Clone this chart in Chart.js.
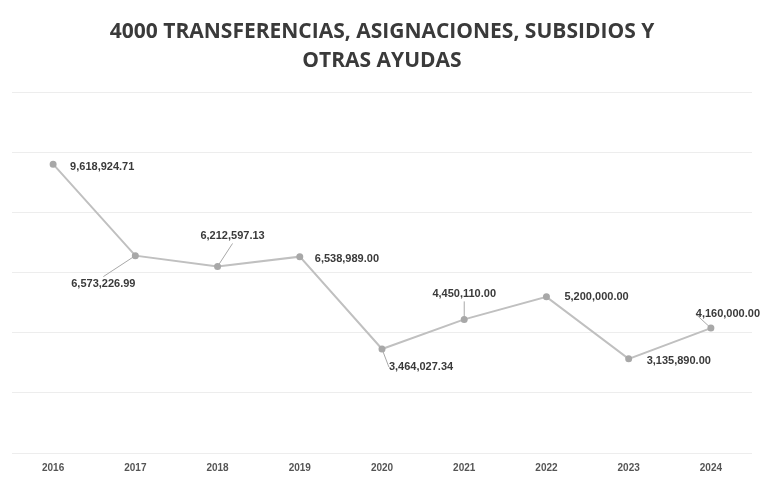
<!DOCTYPE html>
<html>
<head>
<meta charset="utf-8">
<script src="https://cdn.jsdelivr.net/npm/chart.js@4/dist/chart.umd.min.js"></script>
<style>
html,body{margin:0;padding:0;background:#fff;}
#wrap{width:764px;height:478px;}
</style>
</head>
<body>
<div id="wrap"><canvas id="c" width="764" height="478"></canvas></div>
<script>
const years = ['2016','2017','2018','2019','2020','2021','2022','2023','2024'];
const amounts = [9618924.71, 6573226.99, 6212597.13, 6538989.00, 3464027.34, 4450110.00, 5200000.00, 3135890.00, 4160000.00];
const amountLabels = ['9,618,924.71','6,573,226.99','6,212,597.13','6,538,989.00','3,464,027.34','4,450,110.00','5,200,000.00','3,135,890.00','4,160,000.00'];
const titleLines = ['4000 TRANSFERENCIAS, ASIGNACIONES, SUBSIDIOS Y', 'OTRAS AYUDAS'];

// label placement relative to each point: [dx, dy, align, leader]
const labelPlacement = [
  [17, 3, 'left', false],
  [-32, 28, 'center', true],
  [15, -30, 'center', true],
  [15, 2, 'left', false],
  [39, 18, 'center', true],
  [0, -25, 'center', true],
  [18, 0, 'left', false],
  [18, 2, 'left', false],
  [17, -14, 'center', true]
];

const labelPlugin = {
  id: 'pointLabels',
  afterDatasetsDraw(chart) {
    const ctx = chart.ctx;
    const meta = chart.getDatasetMeta(0);
    ctx.save();
    ctx.font = 'bold 11px "Liberation Sans", Arial, sans-serif';
    ctx.textBaseline = 'middle';
    meta.data.forEach((pt, i) => {
      const [dx, dy, align, leader] = labelPlacement[i];
      const tx = pt.x + dx, ty = pt.y + dy;
      const txt = amountLabels[i];
      const w = ctx.measureText(txt).width;
      if (leader) {
        const cx = align === 'left' ? tx + w / 2 : tx;
        let ex = cx, ey = ty + (dy > 0 ? -7 : 7);
        if (Math.abs(dx) > Math.abs(dy) * 1.2) { ex = cx - Math.sign(dx) * w / 2; ey = ty; }
        ctx.strokeStyle = '#a8a8a8';
        ctx.lineWidth = 1;
        ctx.beginPath();
        ctx.moveTo(pt.x, pt.y);
        ctx.lineTo(ex, ey);
        ctx.stroke();
      }
      ctx.fillStyle = '#3a3a3a';
      ctx.textAlign = align;
      ctx.fillText(txt, tx, ty);
    });
    ctx.restore();
  }
};

new Chart(document.getElementById('c'), {
  type: 'line',
  data: {
    labels: years,
    datasets: [{
      data: amounts,
      borderColor: '#c0c0c0',
      borderWidth: 2,
      pointRadius: 2.5,
      pointBackgroundColor: '#a8a8a8',
      pointBorderColor: '#a8a8a8',
      tension: 0
    }]
  },
  options: {
    responsive: false,
    animation: false,
    layout: { padding: { left: 12, right: 12, top: 0, bottom: 3 } },
    plugins: {
      legend: { display: false },
      tooltip: { enabled: false },
      title: {
        display: true,
        text: titleLines,
        color: '#3a3a3a',
        font: { family: '"Open Sans", sans-serif', size: 21, weight: 'bold', lineHeight: 1.35 },
        padding: { top: 18, bottom: 18 }
      }
    },
    scales: {
      x: {
        offset: true,
        grid: { display: false },
        border: { display: false },
        ticks: { color: '#555', font: { family: '"Liberation Sans", Arial, sans-serif', size: 10, weight: 'bold' }, padding: 1 }
      },
      y: {
        min: 0, max: 12000000,
        ticks: { display: false, stepSize: 2000000 },
        border: { display: false },
        grid: { color: '#ededed', drawTicks: false, lineWidth: 1 }
      }
    }
  },
  plugins: [labelPlugin]
});
</script>
</body>
</html>
